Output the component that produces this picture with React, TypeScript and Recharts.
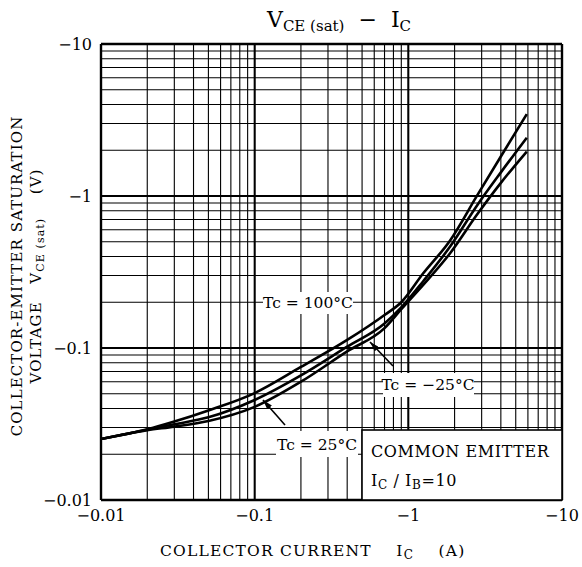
import React from "react";
import {
  LineChart,
  Line,
  XAxis,
  YAxis,
  CartesianGrid,
  ReferenceLine,
} from "recharts";

/* ------------------------------------------------------------------ */
/*  DATA                                */
/* ------------------------------------------------------------------ */

// collector current, A (plotted as magnitude; labels carry the minus sign)
const CURRENT = [0.01, 0.02, 0.03, 0.05, 0.1, 0.2, 0.4, 0.7, 0.9, 1.25, 1.87, 2.8, 4, 5.9];

// VCE(sat), V
const VCE_100 = [0.0252, 0.0292, 0.0328, 0.0388, 0.0505, 0.075, 0.113, 0.165, 0.2, 0.31, 0.51, 1.005, 1.82, 3.46];
const VCE_N25 = [0.0252, 0.029, 0.0315, 0.035, 0.0455, 0.066, 0.102, 0.145, 0.185, 0.275, 0.465, 0.867, 1.43, 2.42];
const VCE_25 = [0.0252, 0.0288, 0.0304, 0.0331, 0.041, 0.06, 0.095, 0.135, 0.18, 0.26, 0.42, 0.755, 1.22, 1.96];

const DECADES = [0.01, 0.1, 1];
const STEPS = [1, 2, 3, 4, 5, 6, 7, 8, 9];
const DECADE_LABELS: Record<string, string> = {
  "0.01": "\u22120.01",
  "0.1": "\u22120.1",
  "1": "\u22121",
  "10": "\u221210",
};

const GRID_TICKS = DECADES.flatMap((d) => STEPS.map((k) => +(d * k).toPrecision(3))).concat(10);

const rows = CURRENT.map((ic, i) => ({
  ic,
  t100: VCE_100[i],
  tn25: VCE_N25[i],
  t25: VCE_25[i],
}));

const FONT = "'DejaVu Serif', serif";

if (typeof document !== "undefined") {
  document.body.style.margin = "0";
}

const fmt = (v: number) => DECADE_LABELS[String(v)] ?? "";

function Overlay() {
  return (
    <svg
      width={582}
      height={567}
      style={{ position: "absolute", left: 0, top: 0, pointerEvents: "none" }}
      fontFamily={FONT}
    >
      <defs>
        <marker id="arr" viewBox="0 0 10 6" refX="10" refY="3" markerWidth="10" markerHeight="6" orient="auto" markerUnits="userSpaceOnUse">
          <path d="M0,0 L10,3 L0,6 z" fill="#000" />
        </marker>
      </defs>

      {/* title */}
      <text x={267} y={27} fontSize={22} fill="#000" style={{ whiteSpace: "pre" }}>
        V<tspan fontSize={15} dy={4}>CE (sat)</tspan>
        <tspan dy={-4}>{"  \u2212  "}I</tspan>
        <tspan fontSize={15} dy={4}>C</tspan>
      </text>

      {/* y axis title */}
      <g transform="translate(22,276) rotate(-90)">
        <text x={0} y={0} textAnchor="middle" fontSize={15} letterSpacing={1.1} fill="#000">
          COLLECTOR-EMITTER SATURATION
        </text>
        <text x={0} y={19} textAnchor="middle" fontSize={15} letterSpacing={1.1} fill="#000" style={{ whiteSpace: "pre" }}>
          {"VOLTAGE   V"}
          <tspan fontSize={11} dy={3}>{"CE (sat)"}</tspan>
          <tspan dy={-3}>{"    (V)"}</tspan>
        </text>
      </g>

      {/* x axis title */}
      <text x={160} y={556} fontSize={15.5} letterSpacing={1.2} fill="#000" style={{ whiteSpace: "pre" }}>
        {"COLLECTOR CURRENT    I"}
        <tspan fontSize={12} dy={3}>C</tspan>
        <tspan dy={-3}>{"    (A)"}</tspan>
      </text>

      {/* temperature labels */}
      <rect x={263} y={292} width={90} height={22} fill="#fff" />
      <text x={308} y={308} textAnchor="middle" fontSize={15.5} fill="#000">Tc = 100°C</text>

      <rect x={383} y={373} width={91} height={24} fill="#fff" />
      <text x={428} y={390} textAnchor="middle" fontSize={15.5} fill="#000">Tc = {"\u2212"}25°C</text>
      <line x1={393} y1={366} x2={370} y2={342} stroke="#000" strokeWidth={1.6} markerEnd="url(#arr)" />

      <rect x={276} y={431} width={82} height={26} fill="#fff" />
      <text x={317} y={450} textAnchor="middle" fontSize={15.5} fill="#000">Tc = 25°C</text>
      <line x1={285} y1={425} x2={263} y2={400} stroke="#000" strokeWidth={1.6} markerEnd="url(#arr)" />

      {/* condition box */}
      <rect x={362} y={430} width={200} height={70} fill="#fff" stroke="#000" strokeWidth={1.6} />
      <text x={371} y={457} fontSize={16} letterSpacing={0.6} fill="#000">COMMON EMITTER</text>
      <text x={371} y={486} fontSize={16} letterSpacing={0.6} fill="#000">
        I<tspan fontSize={12} dy={3}>C</tspan>
        <tspan dy={-3}>{" / I"}</tspan>
        <tspan fontSize={12} dy={3}>B</tspan>
        <tspan dy={-3}>=10</tspan>
      </text>
    </svg>
  );
}

export default function App() {
  return (
    <div style={{ position: "relative", width: 582, height: 567, background: "#fff" }}>
      <LineChart width={582} height={567} data={rows} margin={{ top: 44, right: 20, bottom: 37, left: 0 }}>
        <CartesianGrid stroke="#000" strokeWidth={1.1} />
        <XAxis
          dataKey="ic"
          type="number"
          scale="log"
          domain={[0.01, 10]}
          allowDataOverflow
          ticks={GRID_TICKS}
          interval={0}
          tickFormatter={fmt}
          tickLine={false}
          axisLine={false}
          tickSize={8}
          tickMargin={2}
          height={30}
          tick={{ fontSize: 16, fill: "#000", fontFamily: FONT }}
        />
        <YAxis
          type="number"
          scale="log"
          domain={[0.01, 10]}
          allowDataOverflow
          ticks={GRID_TICKS}
          interval={0}
          tickFormatter={fmt}
          tickLine={false}
          axisLine={false}
          tickSize={6}
          tickMargin={3}
          width={101}
          tick={{ fontSize: 16, fill: "#000", fontFamily: FONT }}
        />
        {[0.1, 1].map((v) => (
          <ReferenceLine key={`vx-${v}`} x={v} stroke="#000" strokeWidth={2} />
        ))}
        {[0.1, 1].map((v) => (
          <ReferenceLine key={`hy-${v}`} y={v} stroke="#000" strokeWidth={2} />
        ))}
        <ReferenceLine x={0.01} stroke="#000" strokeWidth={2.4} />
        <ReferenceLine x={10} stroke="#000" strokeWidth={2.4} />
        <ReferenceLine y={0.01} stroke="#000" strokeWidth={2.4} />
        <ReferenceLine y={10} stroke="#000" strokeWidth={2.4} />
        <Line dataKey="t100" type="monotone" stroke="#000" strokeWidth={2.6} dot={false} isAnimationActive={false} />
        <Line dataKey="tn25" type="monotone" stroke="#000" strokeWidth={2.6} dot={false} isAnimationActive={false} />
        <Line dataKey="t25" type="monotone" stroke="#000" strokeWidth={2.6} dot={false} isAnimationActive={false} />
      </LineChart>
      <Overlay />
    </div>
  );
}
